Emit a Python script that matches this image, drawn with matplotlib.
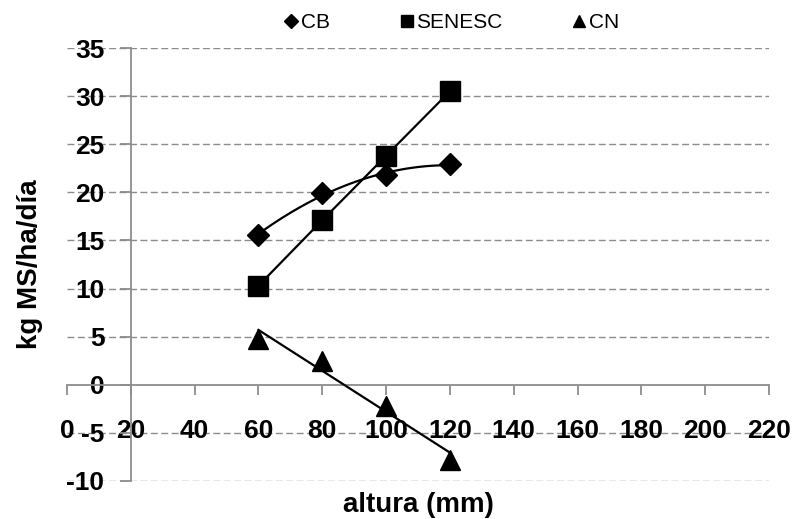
import numpy as np
import matplotlib.pyplot as plt
from matplotlib.lines import Line2D

plt.rcParams['font.family'] = ['Liberation Sans', 'DejaVu Sans']
plt.rcParams['axes.unicode_minus'] = False

altura = np.array([60, 80, 100, 120])
cb = np.array([15.6, 19.9, 21.8, 22.9])
senesc = np.array([10.3, 17.1, 23.8, 30.5])
cn = np.array([4.8, 2.5, -2.2, -7.8])

xticks = np.arange(0, 221, 20)
yticks = np.arange(-10, 36, 5)

grey = '#8c8c8c'

fig = plt.figure(figsize=(7.92, 5.19), dpi=100)
ax = fig.add_axes([67/792, 1 - 481/519, 702/792, 433/519])
ax.set_xlim(0, 220)
ax.set_ylim(-10, 35)

# y axis sits at x=20, x axis at y=0
ax.spines['left'].set_position(('data', 20))
ax.spines['bottom'].set_position(('data', 0))
for s in ['top', 'right']:
    ax.spines[s].set_visible(False)
for s in ['left', 'bottom']:
    ax.spines[s].set_color(grey)
    ax.spines[s].set_linewidth(1.3)
    ax.spines[s].set_zorder(2)

ax.set_xticks(xticks)
ax.set_yticks(yticks)
ax.tick_params(axis='x', direction='out', length=7, width=1.3, color=grey, pad=18,
               labelsize=19)
ax.tick_params(axis='y', direction='out', length=8, width=1.3, color=grey, pad=11,
               labelsize=19)
for lab in ax.get_xticklabels() + ax.get_yticklabels():
    lab.set_fontweight('bold')

for y in yticks:
    if y != 0:
        ax.axhline(y, color=grey, lw=1.0, ls=(0, (5, 2.5)), zorder=1)

# CB: 2nd order trendline
xs = np.linspace(altura[0], altura[-1], 100)
p_cb = np.polyfit(altura, cb, 2)
ax.plot(xs, np.polyval(p_cb, xs), color='black', lw=1.6, zorder=3)
ax.plot(altura, cb, ls='none', marker='D', ms=11, color='black', zorder=4)

# SENESC
ax.plot(altura, senesc, color='black', lw=1.6, marker='s', ms=14, zorder=4)

# CN: linear trendline
p_cn = np.polyfit(altura, cn, 1)
ax.plot(altura[[0, -1]], np.polyval(p_cn, altura[[0, -1]]), color='black', lw=1.6, zorder=3)
ax.plot(altura, cn, ls='none', marker='^', ms=14, color='black', zorder=4)

ax.set_xlabel('altura (mm)', fontsize=20, fontweight='bold')
ax.xaxis.set_label_coords(0.5, -0.055)
ax.xaxis.label.set_va('center')
ax.set_ylabel('kg MS/ha/día', fontsize=20, fontweight='bold')
ax.yaxis.set_label_coords(-0.052, 0.5)
ax.yaxis.label.set_va('center')

handles = [Line2D([], [], ls='none', marker='D', ms=7, color='black'),
           Line2D([], [], ls='none', marker='s', ms=9, color='black'),
           Line2D([], [], ls='none', marker='^', ms=9, color='black')]
fig.legend(handles, ['CB', 'SENESC', 'CN'], loc='center', bbox_to_anchor=(452/792, 1 - 23/519),
           ncol=3, frameon=False, fontsize=15, handlelength=0.6, handletextpad=0.15,
           columnspacing=3.4, borderpad=0)

fig.savefig('out.png', dpi=100)
